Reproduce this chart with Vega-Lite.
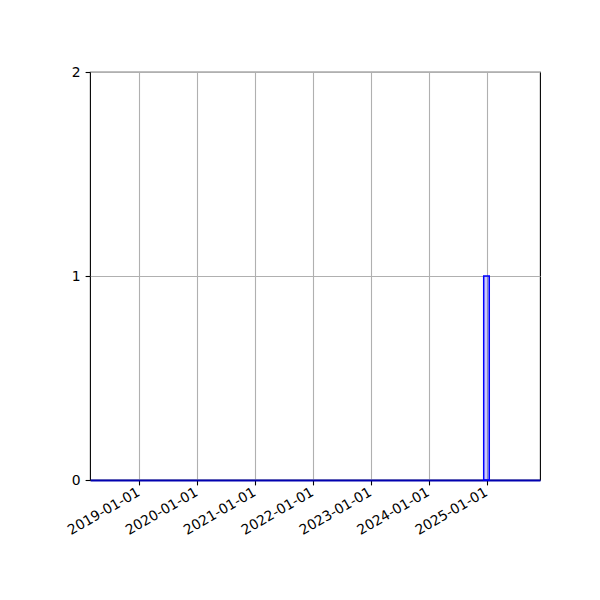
{
  "$schema": "https://vega.github.io/schema/vega-lite/v6.json",
  "width": 450,
  "height": 408,
  "autosize": {"type": "none"},
  "padding": {"left": 90, "top": 72, "right": 60, "bottom": 120},
  "background": "white",
  "config": {
    "font": "DejaVu Sans",
    "view": {"stroke": "black", "strokeWidth": 1.1},
    "axis": {
      "labelFont": "DejaVu Sans",
      "labelFontSize": 13.9,
      "labelColor": "black",
      "tickColor": "black",
      "tickSize": 4.9,
      "tickWidth": 1.1,
      "grid": true,
      "gridColor": "#b0b0b0",
      "gridWidth": 1.1,
      "title": null
    }
  },
  "data": {
    "values": [
      {"start": "2024-12-14", "end": "2025-01-18", "count": 1, "base": 0}
    ]
  },
  "mark": {"type": "rect", "fill": "blue", "fillOpacity": 0.2, "stroke": "blue", "strokeWidth": 1.5},
  "encoding": {
    "x": {
      "field": "start",
      "type": "temporal",
      "scale": {"type": "utc", "domain": [{"year": 2018, "month": 2, "date": 26, "utc": true}, {"year": 2025, "month": 12, "date": 4, "utc": true}]},
      "axis": {
        "format": "%Y-%m-%d",
        "tickCount": {"interval": "year", "step": 1},
        "labelAngle": -30,
        "labelAlign": "right",
        "labelBaseline": "top",
        "labelPadding": 0,
        "labelOffset": -4,
        "labelFlush": false,
        "labelOverlap": false,
        "domain": true,
        "domainColor": "#0000b0",
        "domainWidth": 2,
        "title": null
      }
    },
    "x2": {"field": "end"},
    "y": {
      "field": "count",
      "type": "quantitative",
      "scale": {"domain": [0, 2], "nice": false, "zero": true},
      "axis": {"tickCount": 2, "tickMinStep": 1, "labelPadding": 4.9, "labelOverlap": false, "labelFlush": false, "domain": false, "title": null}
    },
    "y2": {"field": "base"}
  }
}
